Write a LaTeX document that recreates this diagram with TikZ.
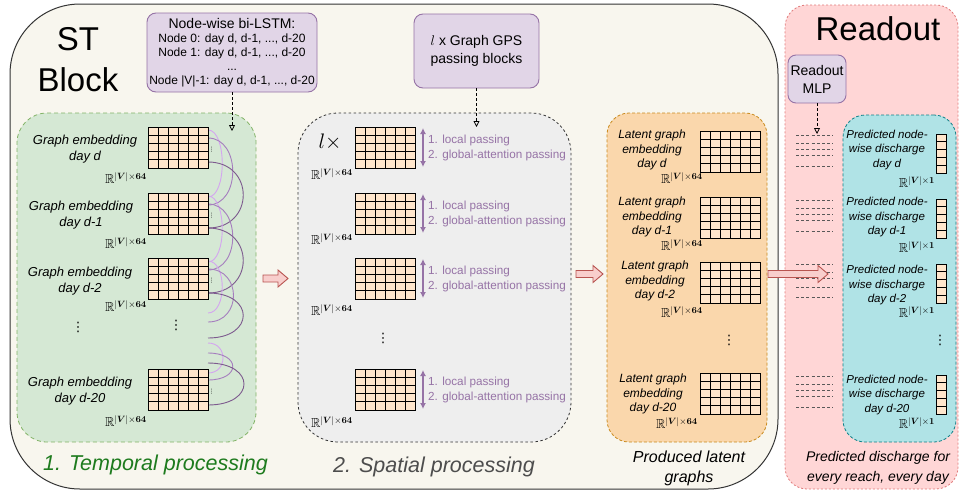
\documentclass[tikz,border=0pt]{standalone}
\usepackage{fix-cm}
\usepackage{amsmath,amssymb}
\usepackage[no-math]{fontspec}
\setmainfont{Liberation Sans}
\newfontfamily\symfont{DejaVu Sans}
\usetikzlibrary{arrows.meta,calc}

\definecolor{stfill}{HTML}{F8F6EE}
\definecolor{stdraw}{HTML}{333333}
\definecolor{tempfill}{HTML}{D5E8D4}
\definecolor{tempdraw}{HTML}{82B366}
\definecolor{temptext}{HTML}{1E7B1E}
\definecolor{spatfill}{HTML}{EEEEEE}
\definecolor{spatdraw}{HTML}{333333}
\definecolor{spattext}{HTML}{4D4D4D}
\definecolor{latfill}{HTML}{FAD7AC}
\definecolor{latdraw}{HTML}{C98A1E}
\definecolor{readfill}{HTML}{FFD6D6}
\definecolor{readdraw}{HTML}{E07B7B}
\definecolor{predfill}{HTML}{B0E3E6}
\definecolor{preddraw}{HTML}{0E8088}
\definecolor{boxfill}{HTML}{E1D5E7}
\definecolor{boxdraw}{HTML}{9673A6}
\definecolor{cellfill}{HTML}{FFE6CC}
\definecolor{arrfill}{HTML}{F8CECC}
\definecolor{arrdraw}{HTML}{B85450}
\definecolor{arclight}{HTML}{D4A5F0}
\definecolor{arcmid}{HTML}{A57DBE}
\definecolor{arcdark}{HTML}{7D5A8E}

\newcommand\fsz[2]{\fontsize{#1}{#2}\selectfont}
\newcommand\Rdim[1]{$\mathbb{R}^{|\boldsymbol{V}|\times\boldsymbol{#1}}$}

\tikzset{
  panel/.style={rounded corners=#1, line width=0.8pt, inner sep=0pt},
  opbox/.style={draw=boxdraw, fill=boxfill, rounded corners=9pt, line width=0.9pt,
    align=center, inner sep=0pt},
  cellbox/.style={draw=black, fill=cellfill, line width=1pt, inner sep=0pt,
    outer sep=0pt, anchor=north west},
  cellline/.style={draw=black, line width=1pt},
  glabel/.style={align=center, font=\fsz{13}{16}\itshape, inner sep=0pt},
  latlabel/.style={align=center, font=\fsz{12}{14.5}\itshape, inner sep=0pt},
  predlabel/.style={align=center, font=\fsz{11.5}{14.5}\itshape, inner sep=0pt},
  rlabel/.style={font=\fsz{13}{15}, inner sep=0pt},
  bigdots/.style={font=\fsz{13}{13}\symfont, inner sep=0pt},
  tinydots/.style={font=\fsz{6}{6}\symfont, inner sep=0pt},
  feed/.style={draw=black, line width=0.8pt, dash pattern=on 3pt off 2pt,
    -{Triangle[open, length=6pt, width=6pt]}},
  passarrow/.style={draw=boxdraw, line width=1.2pt,
    {Latex[length=6pt,width=6pt]}-{Latex[length=6pt,width=6pt]}},
  passtext/.style={text=boxdraw, font=\fsz{11.7}{15}, align=left, anchor=west, inner sep=0pt},
  blockarrow/.style={draw=arrdraw, fill=arrfill, line width=0.9pt, line join=miter},
  readline/.style={draw=black!65, line width=0.8pt, dash pattern=on 3pt off 2.2pt},
  tarc/.style={draw=#1, line width=0.9pt},
}

% 6x5 embedding matrix, top-left corner at (#2,#3)
\newcommand\matgrid[3]{%
  \node[cellbox, minimum width=60pt, minimum height=41pt] (#1) at (#2,#3) {};
  \foreach \k in {1,...,5}{\draw[cellline] ($(#1.north west)+(\k*10,0)$) -- +(0,41);}
  \foreach \k in {1,...,4}{\draw[cellline] ($(#1.north west)+(0,\k*8.2)$) -- +(60,0);}
}
% 1x5 output vector, top-left corner at (#2,#3)
\newcommand\vecgrid[3]{%
  \node[cellbox, minimum width=10pt, minimum height=39pt] (#1) at (#2,#3) {};
  \foreach \k in {1,...,4}{\draw[cellline] ($(#1.north west)+(0,\k*7.8)$) -- +(10,0);}
}
% hollow block arrow from x=#2 to x=#3 at height #4
\newcommand\blockarr[4]{%
  \coordinate (#1) at (#2,#4);
  \draw[blockarrow] (#2,#4-3.5) -- (#3-10,#4-3.5) -- (#3-10,#4-8.5) -- (#3,#4)
    -- (#3-10,#4+8.5) -- (#3-10,#4+3.5) -- (#2,#4+3.5) -- cycle;
}
% message-passing step beside a spatial grid
\newcommand\passstep[1]{%
  \draw[passarrow] ($(#1.north east)+(8,1)$) -- ($(#1.south east)+(8,-1)$);
  \node[passtext] at ($(#1.north east)+(13,13)$) {1. local passing};
  \node[passtext] at ($(#1.north east)+(13,28)$) {2. global-attention passing};
}

\begin{document}
\begin{tikzpicture}[x=1pt,y=-1pt]
\useasboundingbox (0,0) rectangle (961,490);

% ---------- outer blocks ----------
\node[panel=70pt, draw=stdraw, fill=stfill, line width=1pt,
  minimum width=768pt, minimum height=485pt] (stblock) at (394,246.5) {};
\node[panel=22pt, draw=readdraw, fill=readfill, dash pattern=on 2pt off 2pt,
  minimum width=173pt, minimum height=484pt] (readout) at (871.5,247) {};

\node[font=\fsz{33}{33}, anchor=base, inner sep=0pt] (sttitle) at (78,50) {ST};
\node[font=\fsz{33}{33}, anchor=base, inner sep=0pt] (blocktitle) at (78,91) {Block};
\node[font=\fsz{33}{33}, anchor=base, inner sep=0pt] (readtitle) at (878,40) {Readout};

% ---------- stage panels ----------
\node[panel=30pt, draw=tempdraw, fill=tempfill, dash pattern=on 4pt off 3pt,
  minimum width=239pt, minimum height=329pt] (temporal) at (136.5,277.5) {};
\node[panel=40pt, draw=spatdraw, fill=spatfill, dash pattern=on 2.5pt off 2.5pt,
  minimum width=273pt, minimum height=329pt] (spatial) at (434.5,277.5) {};
\node[panel=22pt, draw=latdraw, fill=latfill, dash pattern=on 3pt off 2pt,
  minimum width=160pt, minimum height=329pt] (latent) at (687,277.5) {};
\node[panel=22pt, draw=preddraw, fill=predfill, dash pattern=on 3pt off 2pt,
  minimum width=113pt, minimum height=327pt] (predicted) at (899.5,278.5) {};

% ---------- operator boxes ----------
\node[opbox, font=\fsz{12}{14}, minimum width=170pt, minimum height=79pt] (lstm) at (232,52.5)
  {{\fsz{14}{16}Node-wise bi-LSTM:}\\
   Node 0: day d, d-1, ..., d-20\\
   Node 1: day d, d-1, ..., d-20\\
   ...\\
   Node |V|-1: day d, d-1, ..., d-20};
\node[opbox, font=\fsz{14}{18}, minimum width=125pt, minimum height=74pt] (gps) at (476.5,51)
  {$l$ x Graph GPS\\passing blocks};
\node[opbox, font=\fsz{14}{18}, rounded corners=8pt, minimum width=58pt, minimum height=48pt]
  (mlp) at (817,79) {Readout\\MLP};

\coordinate (lstmin) at (232,131);
\coordinate (gpsin) at (476.5,127);
\coordinate (mlpin) at (817,134);
\draw[feed] (lstm.south) -- (lstmin);
\draw[feed] (gps.south) -- (gpsin);
\draw[feed] (mlp.south) -- (mlpin);

% ---------- temporal processing ----------
\coordinate (fa1) at (208,313);
\coordinate (fa2) at (208,322);
\coordinate (fa3) at (208,338);
\coordinate (fb1) at (208,343);
\coordinate (fb2) at (208,353);
\coordinate (fb3) at (208,363);

% top-left corners of the daily embeddings
\path (148,127) coordinate (t0) (148,193) coordinate (t1) (148,258) coordinate (t2) (148,369) coordinate (t3);

% recurrent links between consecutive days
\foreach \a/\b in {0/1, 1/2}{
  \draw[tarc=arclight] ($(t\a)+(60,3)$) .. controls +(19,0) and +(19,0) .. ($(t\b)+(60,4)$);
  \draw[tarc=arcmid] ($(t\a)+(60,11)$) .. controls +(33,0) and +(33,0) .. ($(t\b)+(60,12)$);
  \draw[tarc=arcdark] ($(t\a)+(60,35)$) .. controls +(47,0) and +(47,0) .. ($(t\b)+(60,35)$);
}
\draw[tarc=arclight] ($(t2)+(60,3)$) .. controls +(19,0) and +(19,0) .. (fa1);
\draw[tarc=arcmid] ($(t2)+(60,11)$) .. controls +(34,0) and +(34,0) .. (fa2);
\draw[tarc=arcdark] ($(t2)+(60,35)$) .. controls +(47,0) and +(47,0) .. (fa3);
\draw[tarc=arclight] (fb1) .. controls +(20,0) and +(20,0) .. ($(t3)+(60,4)$);
\draw[tarc=arcmid] (fb2) .. controls +(33,0) and +(33,0) .. ($(t3)+(60,11)$);
\draw[tarc=arcdark] (fb3) .. controls +(48,0) and +(48,0) .. ($(t3)+(60,36)$);

\matgrid{g0}{148}{127}
\matgrid{g1}{148}{193}
\matgrid{g2}{148}{258}
\matgrid{g3}{148}{369}
\foreach \g in {g0,g1,g2,g3}{
  \node[tinydots] at ($(\g.north east)+(3.5,23)$) {⋮};
}

\node[glabel] (gt0) at (85,149) {Graph embedding\\day d};
\node[glabel] (gt1) at (81,215) {Graph embedding\\day d-1};
\node[glabel] (gt2) at (80,281) {Graph embedding\\day d-2};
\node[glabel] (gt3) at (80,391) {Graph embedding\\day d-20};
\node[rlabel] (gr0) at (126,178) {\Rdim{64}};
\node[rlabel] (gr1) at (126,243) {\Rdim{64}};
\node[rlabel] (gr2) at (126,306) {\Rdim{64}};
\node[rlabel] (gr3) at (126,421) {\Rdim{64}};
\node[bigdots] (gd1) at (78,327) {⋮};
\node[bigdots] (gd2) at (176,325) {⋮};

\node[font=\fsz{21.5}{24}\itshape, text=temptext, anchor=base, inner sep=0pt]
  (temptitle) at (155.5,470) {1. Temporal processing};

% ---------- spatial processing ----------
\matgrid{s0}{355}{127}
\matgrid{s1}{355}{193}
\matgrid{s2}{355}{258}
\matgrid{s3}{355}{369}
\foreach \g in {s0,s1,s2,s3}{\passstep{\g}}
\node[font=\fsz{21}{21}, inner sep=0pt] (ltimes) at (330,142) {$l\times$};
\node[rlabel] (sr0) at (332,174) {\Rdim{64}};
\node[rlabel] (sr1) at (332,239) {\Rdim{64}};
\node[rlabel] (sr2) at (332,310) {\Rdim{64}};
\node[rlabel] (sr3) at (332,422) {\Rdim{64}};
\node[bigdots] (sd) at (383,338) {⋮};
\node[font=\fsz{21.5}{24}\itshape, text=spattext, anchor=base, inner sep=0pt]
  (spattitle) at (434,472) {2. Spatial processing};

% ---------- produced latent graphs ----------
\matgrid{l0}{700}{131}
\matgrid{l1}{700}{197}
\matgrid{l2}{700}{262}
\matgrid{l3}{700}{373}
\node[latlabel] (lt0) at (652,150) {Latent graph\\embedding\\day d};
\node[latlabel] (lt1) at (652,217) {Latent graph\\embedding\\day d-1};
\node[latlabel] (lt2) at (655,281) {Latent graph\\embedding\\day d-2};
\node[latlabel] (lt3) at (653,394) {Latent graph\\embedding\\day d-20};
\node[rlabel] (lr0) at (682,178) {\Rdim{64}};
\node[rlabel] (lr1) at (682,245) {\Rdim{64}};
\node[rlabel] (lr2) at (682,312) {\Rdim{64}};
\node[rlabel] (lr3) at (677,423) {\Rdim{64}};
\node[bigdots] (ld) at (729,340) {⋮};
\node[font=\fsz{16}{20}\itshape, align=center, inner sep=0pt]
  (lattitle) at (689,468) {Produced latent\\graphs};

% ---------- readout ----------
\foreach \y in {135,143,149,155,166, 200,208,214,220,231, 264,272,278,287,297, 376,384,390,396,407}{
  \draw[readline] (796,\y) -- (833,\y);
}
\vecgrid{p0}{936}{134}
\vecgrid{p1}{936}{199}
\vecgrid{p2}{936}{264}
\vecgrid{p3}{936}{375}
\node[predlabel] (pt0) at (887,150) {Predicted node-\\wise discharge\\day d};
\node[predlabel] (pt1) at (887,217.5) {Predicted node-\\wise discharge\\day d-1};
\node[predlabel] (pt2) at (887,285.5) {Predicted node-\\wise discharge\\day d-2};
\node[predlabel] (pt3) at (887,395) {Predicted node-\\wise discharge\\day d-20};
\node[rlabel] (pr0) at (917,182) {\Rdim{1}};
\node[rlabel] (pr1) at (917,247) {\Rdim{1}};
\node[rlabel] (pr2) at (917,312) {\Rdim{1}};
\node[rlabel] (pr3) at (917,423) {\Rdim{1}};
\node[bigdots] (pd) at (940,340) {⋮};
\node[font=\fsz{14}{20}\itshape, align=center, inner sep=0pt]
  (readnote) at (878,468) {Predicted discharge for\\every reach, every day};

% ---------- flow between stages ----------
\blockarr{flow1}{263}{288}{278.5}
\blockarr{flow2}{576}{603}{274}
\blockarr{flow3}{768}{828}{274}

\end{tikzpicture}
\end{document}
